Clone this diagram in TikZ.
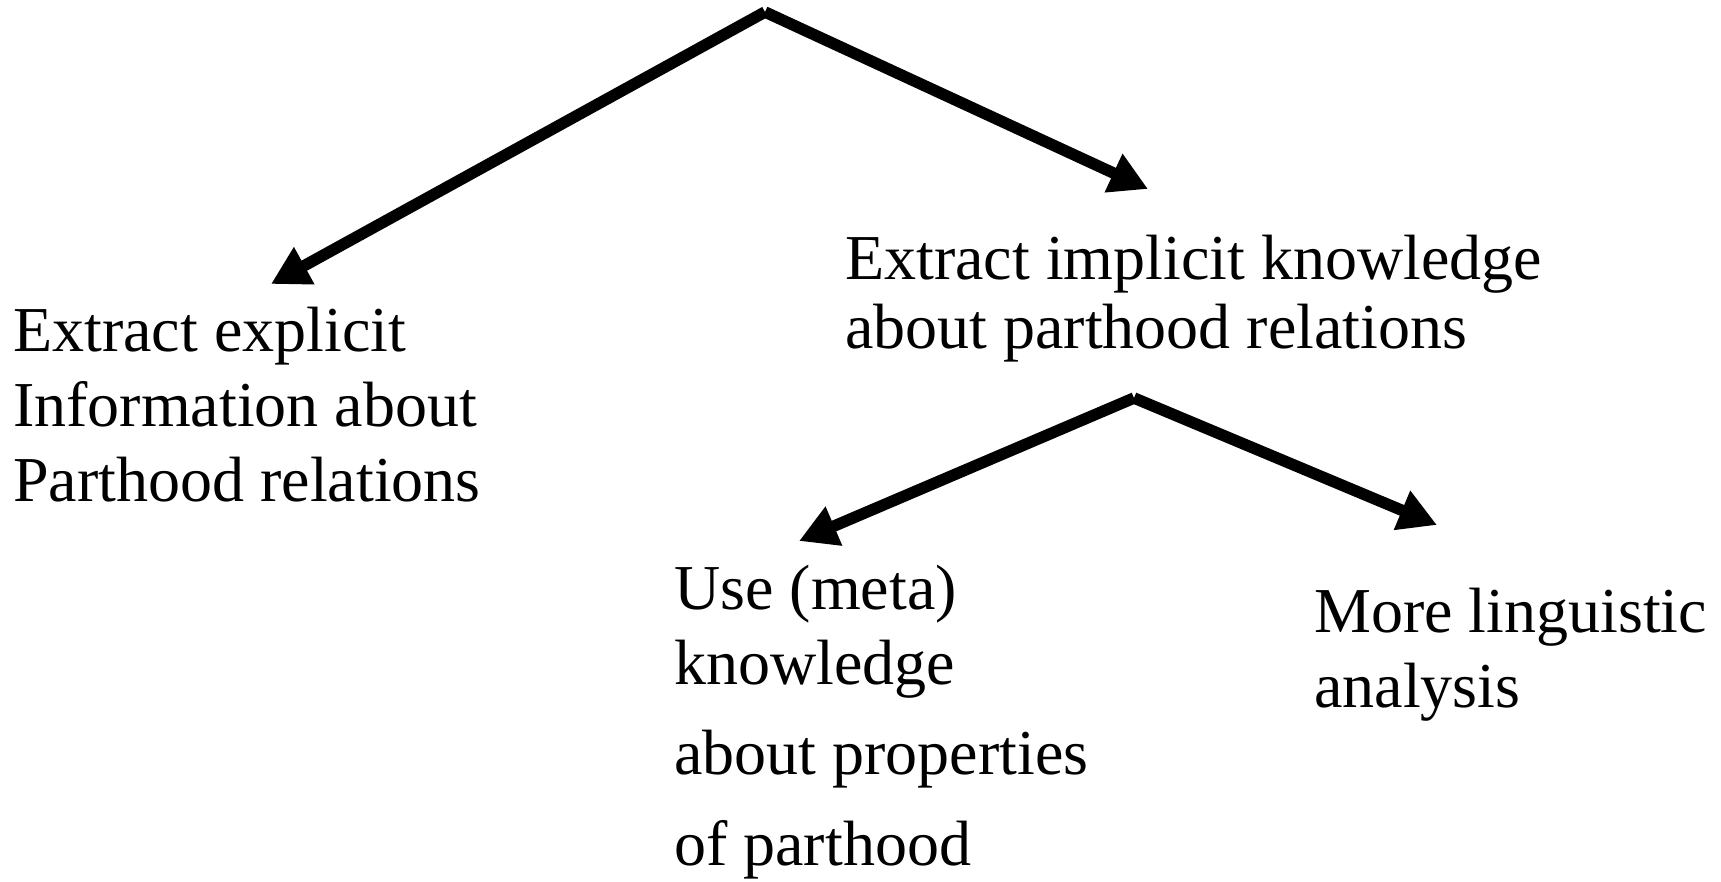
\documentclass[tikz,border=0pt]{standalone}
\usepackage{fontspec}
\setmainfont{Liberation Serif}
\usetikzlibrary{arrows.meta}
\begin{document}
\begin{tikzpicture}[x=1pt,y=-1pt,
  link/.style={line width=11.5pt, -{Triangle[length=38pt,width=40pt]}},
  txt/.style={anchor=base west, inner sep=0pt, align=left,
    font=\fontsize{64}{75}\selectfont}]
\useasboundingbox (0,0) rectangle (1721,881);

% branching points and arrow ends
\coordinate (top) at (765,12);
\coordinate (mid) at (1134,398);
\coordinate (tipA) at (271,284);
\coordinate (tipB) at (1148,189);
\coordinate (tipC) at (799,541);
\coordinate (tipD) at (1437,525);

% text blocks (placed by the baseline of their last line)
\node[txt] (explicit) at (13,501) {Extract explicit\\Information about\\Parthood relations};
\node[txt] (implicit) at (845,348) {Extract implicit knowledge\\[-6pt]about parthood relations};
\node[txt] (meta) at (674,865) {Use (meta)\\knowledge\\[15pt]about properties\\[16pt]of parthood};
\node[txt] (ling) at (1314,707) {More linguistic\\analysis};

% connectors
\draw[link] (top) -- (tipA);
\draw[link] (top) -- (tipB);
\draw[link] (mid) -- (tipC);
\draw[link] (mid) -- (tipD);
\end{tikzpicture}
\end{document}
